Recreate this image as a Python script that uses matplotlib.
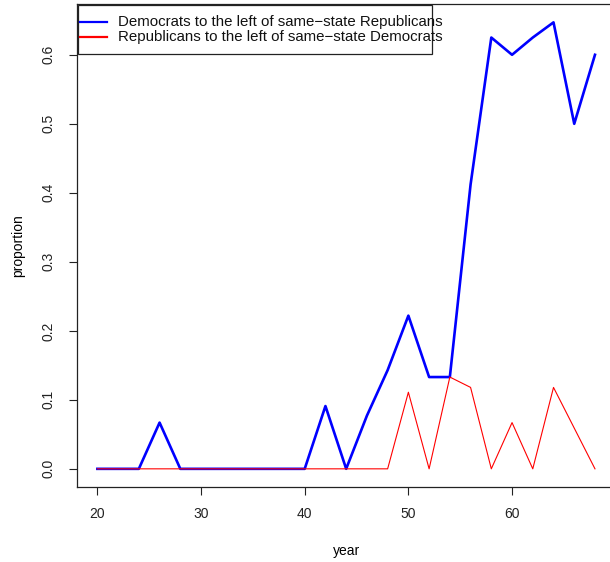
import matplotlib

matplotlib.use("Agg")
import matplotlib.pyplot as plt  # noqa: E402
from matplotlib.lines import Line2D  # noqa: E402
from matplotlib.patches import Rectangle  # noqa: E402

plt.rcParams["font.family"] = ["Liberation Sans", "DejaVu Sans"]

years = [20, 22, 24, 26, 28, 30, 32, 34, 36, 38, 40, 42, 44,
         46, 48, 50, 52, 54, 56, 58, 60, 62, 64, 66, 68]
dem_left = [0, 0, 0, 0.067, 0, 0, 0, 0, 0, 0, 0, 0.091, 0,
            0.077, 0.143, 0.222, 0.133, 0.133, 0.412, 0.625, 0.600,
            0.625, 0.647, 0.500, 0.600]
rep_left = [0, 0, 0, 0, 0, 0, 0, 0, 0, 0, 0, 0, 0,
            0, 0, 0.111, 0, 0.133, 0.118, 0, 0.067,
            0, 0.118, 0.059, 0]

labels = ["Democrats to the left of same\u2212state Republicans",
          "Republicans to the left of same\u2212state Democrats"]
colors = ["#0000ff", "#ff0000"]

x_ticks = [20, 30, 40, 50, 60]
y_ticks = [0.0, 0.1, 0.2, 0.3, 0.4, 0.5, 0.6]

W, H = 610, 562
fig = plt.figure(figsize=(W / 100, H / 100), dpi=100)
ax = fig.add_axes([0.127, 0.134, 0.881, 0.858])

ax.plot(years, dem_left, color=colors[0], linewidth=1.9)
ax.plot(years, rep_left, color=colors[1], linewidth=0.8)

# R-style padded ranges (4% each side)
xr = max(years) - min(years)
ax.set_xlim(min(years) - 0.04 * xr, max(years) + 0.04 * xr)
yr = max(dem_left)
ax.set_ylim(-0.04 * yr, yr * 1.04)

ax.set_xticks(x_ticks)
ax.set_xticklabels([str(t) for t in x_ticks])
ax.set_yticks(y_ticks)
ax.set_yticklabels([f"{t:.1f}" for t in y_ticks], rotation=90, va="center")
ax.tick_params(axis="both", length=5.5, width=0.8, labelsize=10,
               colors="#222222")
ax.tick_params(axis="x", pad=9)
ax.tick_params(axis="y", pad=10)
for sp in ax.spines.values():
    sp.set_linewidth(0.9)
    sp.set_color("#222222")

ax.set_xlabel("year", fontsize=10, labelpad=17)
ax.set_ylabel("proportion", fontsize=10, labelpad=12)


def px(x, y):
    # pixel position (from top-left) to figure fraction
    return x / W, 1 - y / H


# legend box drawn the way R's legend() lays it out
x0, y0 = px(78, 5)
x1, y1 = px(432, 54)
fig.add_artist(Rectangle((x0, y1), x1 - x0, y0 - y1, transform=fig.transFigure,
                         facecolor="white", edgecolor="#222222",
                         linewidth=0.9, zorder=5))
for i, (lab, col) in enumerate(zip(labels, colors)):
    yy = 22 + 15 * i
    ha, hy = px(80, yy)
    hb, _ = px(107, yy)
    fig.add_artist(Line2D([ha, hb], [hy, hy], transform=fig.transFigure,
                          color=col, linewidth=1.6, zorder=6))
    tx, ty = px(118, yy)
    fig.text(tx, ty, lab, fontsize=10.8, va="center", ha="left",
             color="#111111", zorder=6)

fig.savefig("out.png", dpi=100)
plt.close(fig)
